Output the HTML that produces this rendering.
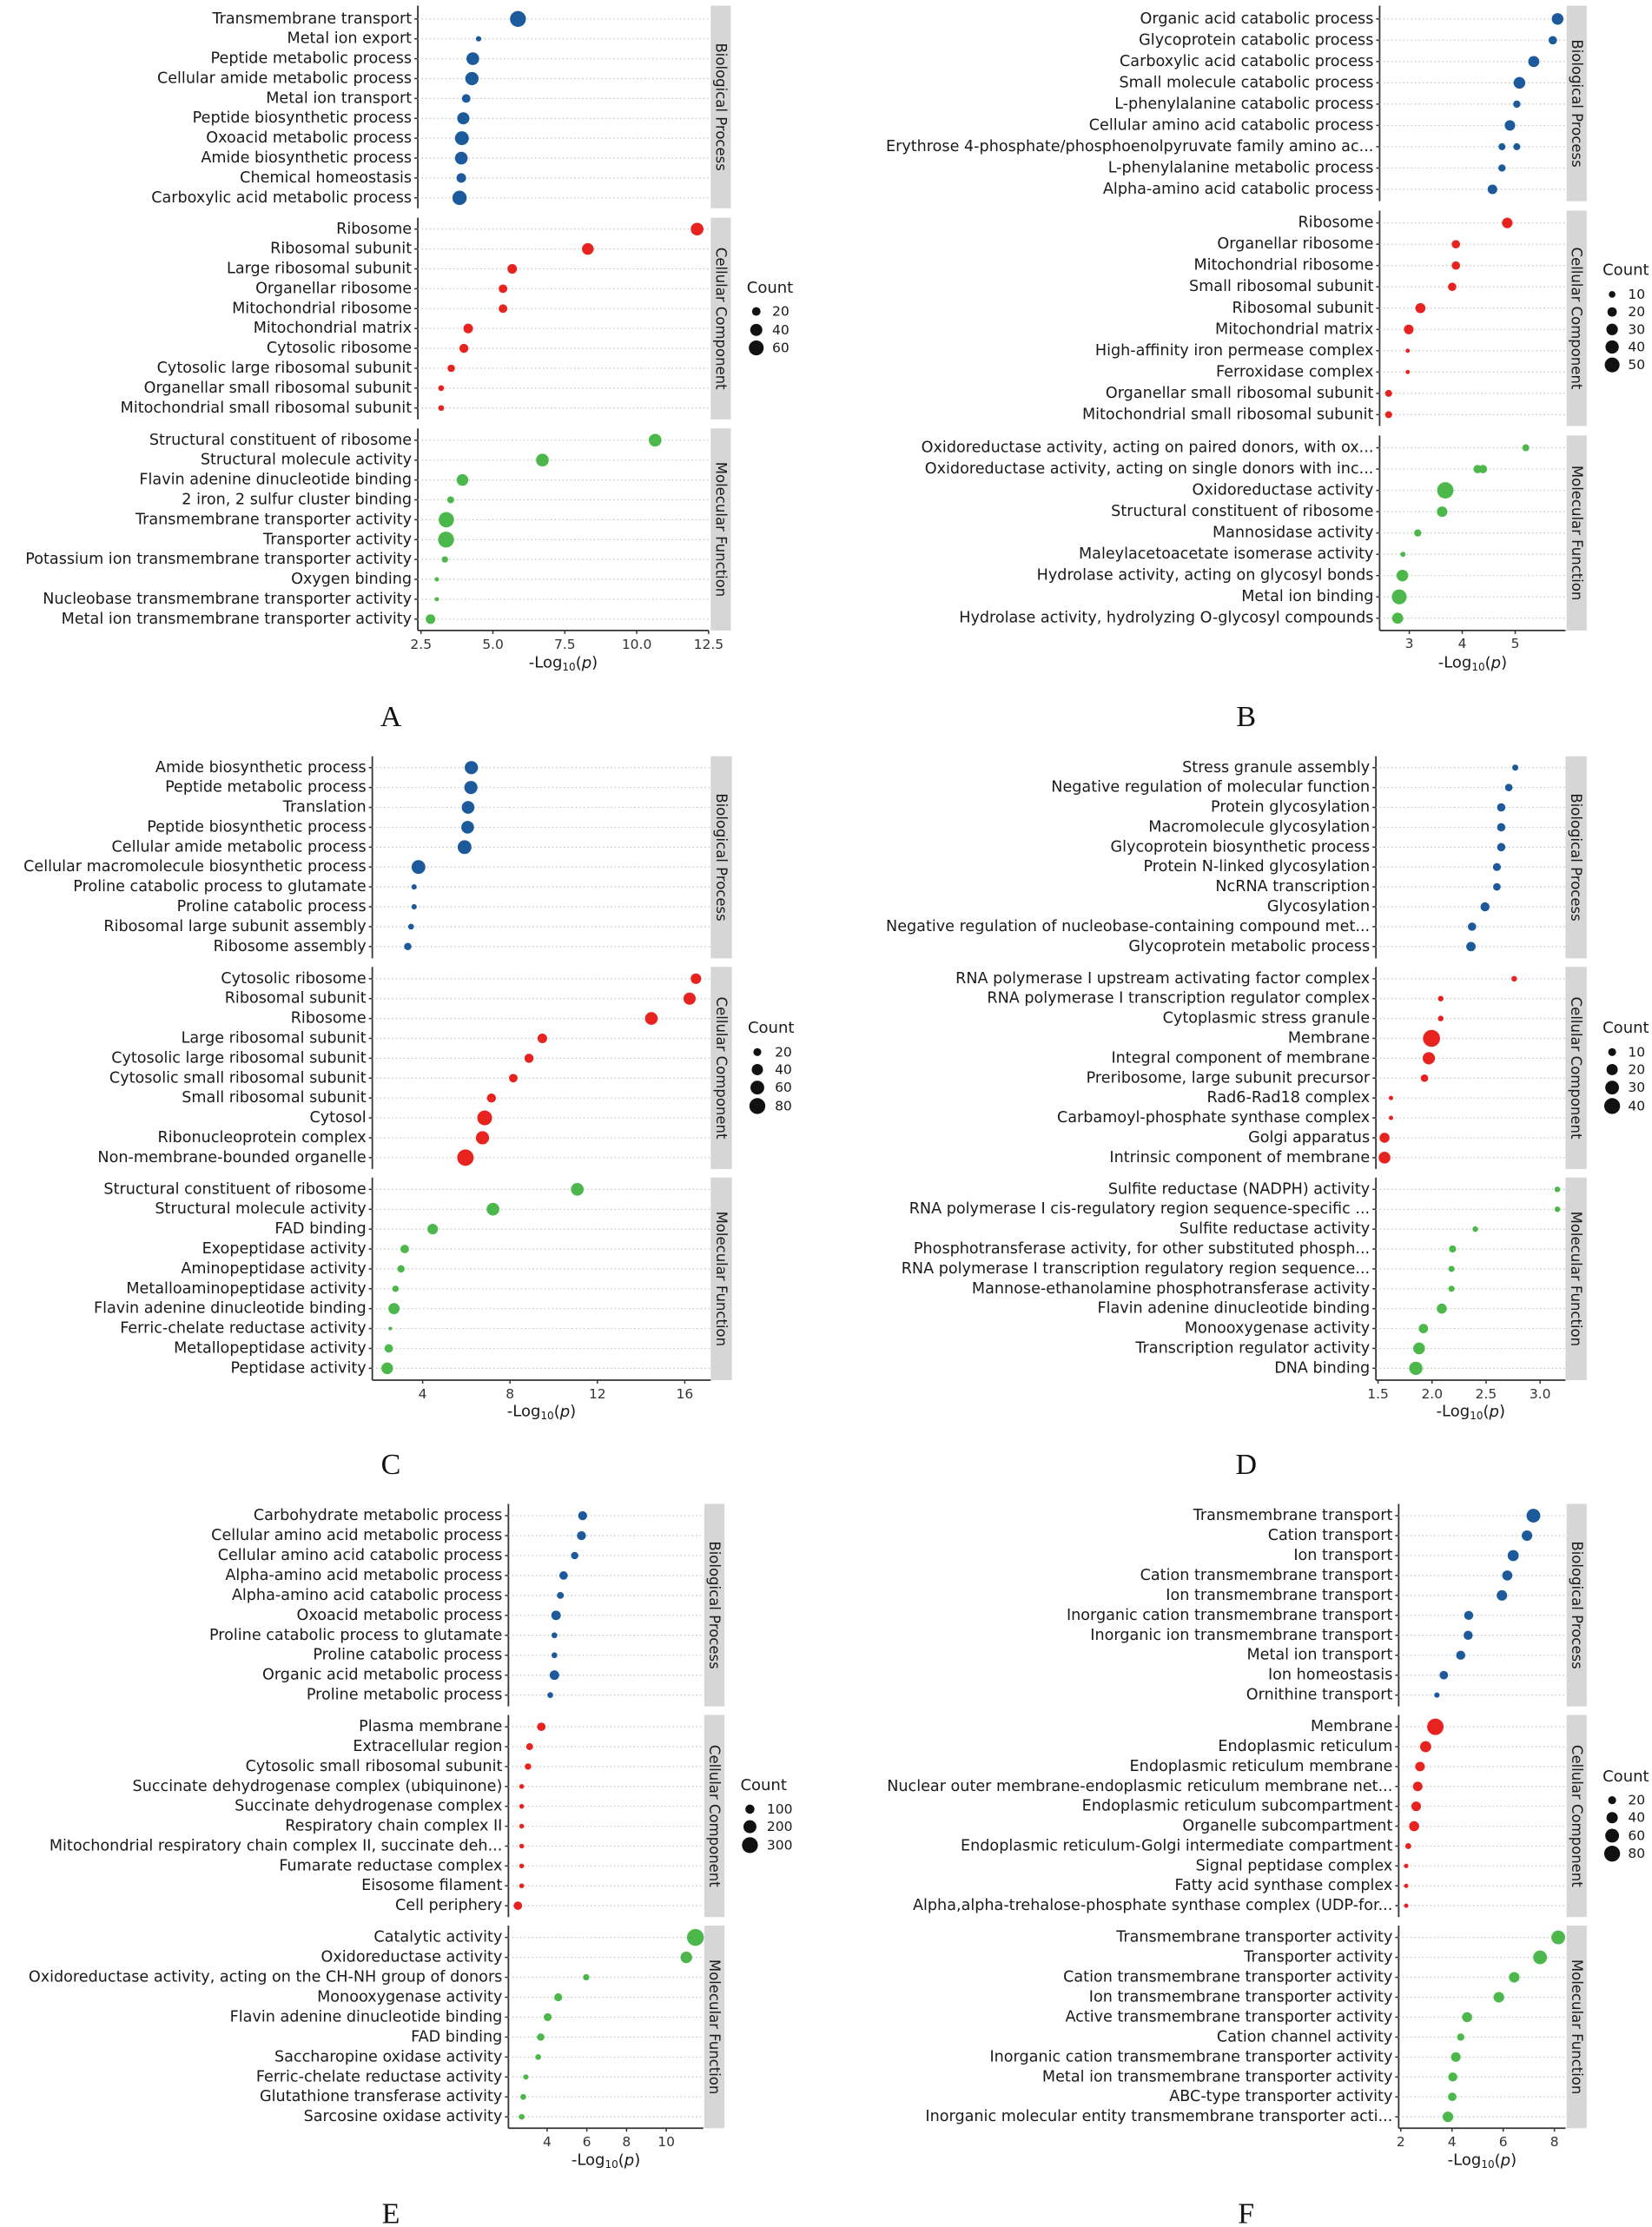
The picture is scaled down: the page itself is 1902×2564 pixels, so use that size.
<!DOCTYPE html>
<html><head><meta charset="utf-8">
<style>
html,body{margin:0;padding:0;background:#fff;}
svg{display:block;}
text{font-family:"DejaVu Sans","Liberation Sans",sans-serif;}
</style></head>
<body>
<svg id="fig" xmlns="http://www.w3.org/2000/svg" width="1902" height="2564" viewBox="0 0 1902 2564"></svg>
<script>
// ===== Panel A data =====
const A_terms=[["Transmembrane transport","Metal ion export","Peptide metabolic process","Cellular amide metabolic process","Metal ion transport","Peptide biosynthetic process","Oxoacid metabolic process","Amide biosynthetic process","Chemical homeostasis","Carboxylic acid metabolic process"],
["Ribosome","Ribosomal subunit","Large ribosomal subunit","Organellar ribosome","Mitochondrial ribosome","Mitochondrial matrix","Cytosolic ribosome","Cytosolic large ribosomal subunit","Organellar small ribosomal subunit","Mitochondrial small ribosomal subunit"],
["Structural constituent of ribosome","Structural molecule activity","Flavin adenine dinucleotide binding","2 iron, 2 sulfur cluster binding","Transmembrane transporter activity","Transporter activity","Potassium ion transmembrane transporter activity","Oxygen binding","Nucleobase transmembrane transporter activity","Metal ion transmembrane transporter activity"]];
const A_logp=[[5.87,4.5,4.3,4.27,4.07,3.97,3.92,3.9,3.9,3.84],[12.1,8.3,5.67,5.35,5.35,4.14,3.99,3.55,3.2,3.2],[10.64,6.72,3.94,3.53,3.38,3.37,3.33,3.05,3.05,2.83]];
const A_count=[[69,8,44,48,20,40,52,44,25,56],[44,37,25,20,20,25,22,15,9,9],[44,44,37,13,64,69,11,5,5,25]];
const A_ticks=[2.5,5,7.5,10,12.5];
const A_tickLabels=["2.5","5.0","7.5","10.0","12.5"];
const A_legend=[20,40,60];
// ===== Panel B data =====
const B_terms=[["Organic acid catabolic process","Glycoprotein catabolic process","Carboxylic acid catabolic process","Small molecule catabolic process","L-phenylalanine catabolic process","Cellular amino acid catabolic process","Erythrose 4-phosphate/phosphoenolpyruvate family amino ac...","Erythrose 4-phosphate/phosphoenolpyruvate family amino ac...","L-phenylalanine metabolic process","Alpha-amino acid catabolic process"],
["Ribosome","Organellar ribosome","Mitochondrial ribosome","Small ribosomal subunit","Ribosomal subunit","Mitochondrial matrix","High-affinity iron permease complex","Ferroxidase complex","Organellar small ribosomal subunit","Mitochondrial small ribosomal subunit"],
["Oxidoreductase activity, acting on paired donors, with ox...","Oxidoreductase activity, acting on single donors with inc...","Oxidoreductase activity, acting on single donors with inc...","Oxidoreductase activity","Structural constituent of ribosome","Mannosidase activity","Maleylacetoacetate isomerase activity","Hydrolase activity, acting on glycosyl bonds","Metal ion binding","Hydrolase activity, hydrolyzing O-glycosyl compounds"]];
const B_logp=[[5.8,5.71,5.35,5.08,5.03,4.9,4.75,5.03,4.75,4.57],[4.85,3.88,3.88,3.81,3.21,2.99,2.97,2.97,2.61,2.61],[5.2,4.29,4.39,3.68,3.62,3.16,2.88,2.87,2.81,2.78]];
const B_count=[[31,16,28,31,12,25,11,11,12,21],[25,16,16,16,23,21,4,4,11,11],[11,16,16,61,25,12,6,31,50,28]];
const B_ticks=[3,4,5];
const B_tickLabels=["3","4","5"];
const B_legend=[10,20,30,40,50];
// ===== Panel C data =====
const C_terms=[["Amide biosynthetic process","Peptide metabolic process","Translation","Peptide biosynthetic process","Cellular amide metabolic process","Cellular macromolecule biosynthetic process","Proline catabolic process to glutamate","Proline catabolic process","Ribosomal large subunit assembly","Ribosome assembly"],
["Cytosolic ribosome","Ribosomal subunit","Ribosome","Large ribosomal subunit","Cytosolic large ribosomal subunit","Cytosolic small ribosomal subunit","Small ribosomal subunit","Cytosol","Ribonucleoprotein complex","Non-membrane-bounded organelle"],
["Structural constituent of ribosome","Structural molecule activity","FAD binding","Exopeptidase activity","Aminopeptidase activity","Metalloaminopeptidase activity","Flavin adenine dinucleotide binding","Ferric-chelate reductase activity","Metallopeptidase activity","Peptidase activity"]];
const C_logp=[[6.23,6.21,6.08,6.06,5.92,3.81,3.61,3.61,3.47,3.32],[16.51,16.22,14.47,9.48,8.87,8.15,7.15,6.84,6.74,5.96],[11.08,7.22,4.46,3.18,3.01,2.76,2.69,2.52,2.45,2.38]];
const C_count=[[55,55,51,51,60,60,9,9,11,17],[35,47,51,29,26,23,26,69,55,85],[51,51,35,23,17,13,39,4,23,43]];
const C_ticks=[4,8,12,16];
const C_tickLabels=["4","8","12","16"];
const C_legend=[20,40,60,80];
// ===== Panel D data =====
const D_terms=[["Stress granule assembly","Negative regulation of molecular function","Protein glycosylation","Macromolecule glycosylation","Glycoprotein biosynthetic process","Protein N-linked glycosylation","NcRNA transcription","Glycosylation","Negative regulation of nucleobase-containing compound met...","Glycoprotein metabolic process"],
["RNA polymerase I upstream activating factor complex","RNA polymerase I transcription regulator complex","Cytoplasmic stress granule","Membrane","Integral component of membrane","Preribosome, large subunit precursor","Rad6-Rad18 complex","Carbamoyl-phosphate synthase complex","Golgi apparatus","Intrinsic component of membrane"],
["Sulfite reductase (NADPH) activity","RNA polymerase I cis-regulatory region sequence-specific ...","Sulfite reductase activity","Phosphotransferase activity, for other substituted phosph...","RNA polymerase I transcription regulatory region sequence...","Mannose-ethanolamine phosphotransferase activity","Flavin adenine dinucleotide binding","Monooxygenase activity","Transcription regulator activity","DNA binding"]];
const D_logp=[[2.77,2.71,2.64,2.64,2.64,2.6,2.6,2.49,2.37,2.36],[2.76,2.08,2.08,1.995,1.97,1.93,1.62,1.62,1.56,1.56],[3.16,3.16,2.4,2.19,2.18,2.18,2.09,1.92,1.88,1.85]];
const D_count=[[6,9,11,11,11,10,9,13,11,14],[5,5,5,46,24,9,3,3,16,22],[5,5,5,8,6,6,16,14,22,28]];
const D_ticks=[1.5,2.0,2.5,3.0];
const D_tickLabels=["1.5","2.0","2.5","3.0"];
const D_legend=[10,20,30,40];
// ===== Panel E data =====
const E_terms=[["Carbohydrate metabolic process","Cellular amino acid metabolic process","Cellular amino acid catabolic process","Alpha-amino acid metabolic process","Alpha-amino acid catabolic process","Oxoacid metabolic process","Proline catabolic process to glutamate","Proline catabolic process","Organic acid metabolic process","Proline metabolic process"],
["Plasma membrane","Extracellular region","Cytosolic small ribosomal subunit","Succinate dehydrogenase complex (ubiquinone)","Succinate dehydrogenase complex","Respiratory chain complex II","Mitochondrial respiratory chain complex II, succinate deh...","Fumarate reductase complex","Eisosome filament","Cell periphery"],
["Catalytic activity","Oxidoreductase activity","Oxidoreductase activity, acting on the CH-NH group of donors","Monooxygenase activity","Flavin adenine dinucleotide binding","FAD binding","Saccharopine oxidase activity","Ferric-chelate reductase activity","Glutathione transferase activity","Sarcosine oxidase activity"]];
const E_logp=[[5.79,5.73,5.39,4.83,4.67,4.45,4.37,4.37,4.37,4.16],[3.71,3.12,3.04,2.72,2.72,2.72,2.72,2.72,2.72,2.53],[11.47,11.01,5.97,4.56,4.03,3.68,3.55,2.93,2.8,2.72]];
const E_count=[[96,96,65,85,56,108,40,40,108,40],[85,56,48,27,27,27,27,27,27,85],[341,161,48,75,75,65,40,33,40,40]];
const E_ticks=[4,6,8,10];
const E_tickLabels=["4","6","8","10"];
const E_legend=[100,200,300];
// ===== Panel F data =====
const F_terms=[["Transmembrane transport","Cation transport","Ion transport","Cation transmembrane transport","Ion transmembrane transport","Inorganic cation transmembrane transport","Inorganic ion transmembrane transport","Metal ion transport","Ion homeostasis","Ornithine transport"],
["Membrane","Endoplasmic reticulum","Endoplasmic reticulum membrane","Nuclear outer membrane-endoplasmic reticulum membrane net...","Endoplasmic reticulum subcompartment","Organelle subcompartment","Endoplasmic reticulum-Golgi intermediate compartment","Signal peptidase complex","Fatty acid synthase complex","Alpha,alpha-trehalose-phosphate synthase complex (UDP-for..."],
["Transmembrane transporter activity","Transporter activity","Cation transmembrane transporter activity","Ion transmembrane transporter activity","Active transmembrane transporter activity","Cation channel activity","Inorganic cation transmembrane transporter activity","Metal ion transmembrane transporter activity","ABC-type transporter activity","Inorganic molecular entity transmembrane transporter acti..."]];
const F_logp=[[7.18,6.93,6.39,6.16,5.95,4.65,4.63,4.34,3.68,3.41],[3.35,2.97,2.75,2.66,2.6,2.52,2.29,2.21,2.21,2.21],[8.15,7.44,6.43,5.83,4.59,4.34,4.15,4.03,4.01,3.84]];
const F_count=[[60,35,39,32,35,26,26,26,23,9],[85,39,29,29,29,32,11,6,6,6],[60,60,35,35,32,17,29,26,23,35]];
const F_ticks=[2,4,6,8];
const F_tickLabels=["2","4","6","8"];
const F_legend=[20,40,60,80];

const FACETS=["Biological Process","Cellular Component","Molecular Function"];
const COLORS=["#1d5a9c","#e8221f","#4cb84b"];
const NS="http://www.w3.org/2000/svg";
const svg=document.getElementById('fig');
function mk(tag,attrs,parent){const e=document.createElementNS(NS,tag);for(const k in attrs)e.setAttribute(k,attrs[k]);(parent||svg).appendChild(e);return e;}

const SX=1.64, SY=1.835;
const layouts={
A:{ox:0,oy:0,axisX:789,right:1338,stripX:1342,stripW:38,x0:795,x1:1338,v0:2.5,v1:12.5,
   facets:[[12,440,40,418],[460,886,484,862],[905,1332,930,1308]],bottom:1332,tickY:1362,titleY:1400,letter:[738,1515],
   leg:{tx:1410,ty:608,ys:[658,697,735],cx:1428,lx:1458},k:1.81},
B:{ox:950,oy:0,axisX:1047,right:1398,stripX:1400,stripW:38,x0:1103,x1:1303,v0:3,v1:5,
   facets:[[12,425,40,400],[445,900,471,876],[920,1332,946,1306]],bottom:1332,tickY:1360,titleY:1400,letter:[795,1515],
   leg:{tx:1468,ty:571,ys:[622,659,696,733,771],cx:1486,lx:1516},k:1.98},
C:{ox:0,oy:850,axisX:703,right:1342,stripX:1342,stripW:40,x0:798,x1:1293,v0:4,v1:16,
   facets:[[38,465,62,440],[483,910,508,886],[928,1356,953,1331]],bottom:1356,tickY:1385,titleY:1422,letter:[738,1535],
   leg:{tx:1412,ty:612,ys:[663,700,738,777],cx:1430,lx:1463},k:1.68},
D:{ox:950,oy:850,axisX:1040,right:1398,stripX:1398,stripW:40,x0:1044,x1:1350,v0:1.5,v1:3.0,
   facets:[[38,465,62,440],[483,910,508,886],[928,1356,953,1331]],bottom:1356,tickY:1385,titleY:1422,letter:[795,1535],
   leg:{tx:1468,ty:612,ys:[663,700,738,777],cx:1486,lx:1516},k:2.37},
E:{ox:0,oy:1714,axisX:960,right:1328,stripX:1330,stripW:38,x0:1033,x1:1258,v0:4,v1:10,
   facets:[[32,460,57,436],[478,905,503,881],[923,1351,948,1327]],bottom:1351,tickY:1380,titleY:1418,letter:[738,1532],
   leg:{tx:1398,ty:627,ys:[677,714,753],cx:1416,lx:1448},k:0.866},
F:{ox:950,oy:1714,axisX:1083,right:1398,stripX:1400,stripW:38,x0:1087,x1:1377,v0:2,v1:8,
   facets:[[32,460,57,436],[478,905,503,881],[923,1351,948,1327]],bottom:1351,tickY:1380,titleY:1418,letter:[795,1532],
   leg:{tx:1468,ty:608,ys:[658,695,733,771],cx:1486,lx:1516},k:1.68}
};
const DATA={A:[A_terms,A_logp,A_count,A_ticks,A_tickLabels,A_legend],B:[B_terms,B_logp,B_count,B_ticks,B_tickLabels,B_legend],
C:[C_terms,C_logp,C_count,C_ticks,C_tickLabels,C_legend],D:[D_terms,D_logp,D_count,D_ticks,D_tickLabels,D_legend],
E:[E_terms,E_logp,E_count,E_ticks,E_tickLabels,E_legend],F:[F_terms,F_logp,F_count,F_ticks,F_tickLabels,F_legend]};

for(const key in layouts){
  const L=layouts[key];const [terms,logp,counts,ticks,tickLabels,legend]=DATA[key];
  const g=mk('g',{transform:`translate(${L.ox},${L.oy})`});
  
  
  const X=z=>z/SX, Y=z=>z/SY;
  const xs=v=>X(L.x0+(v-L.v0)*(L.x1-L.x0)/(L.v1-L.v0));
  const rs=c=>L.k*Math.sqrt(c)/SX;
  const ax=X(L.axisX), rt=X(L.right);
  for(let f=0;f<3;f++){
    const [ft,fb,r0,r1]=L.facets[f];
    const uniq=[];terms[f].forEach(t=>{if(!uniq.includes(t))uniq.push(t);});
    const step=uniq.length>1?(r1-r0)/(uniq.length-1):0;
    const ys=i=>Y(r0+i*step);
    const st=mk('rect',{x:X(L.stripX),y:Y(ft),width:X(L.stripW),height:Y(fb-ft),fill:'#d6d6d6'},g);
    
    
    const sx=X(L.stripX+L.stripW/2), sy=Y((ft+fb)/2);
    const stt=mk('text',{x:sx,y:sy,transform:`rotate(90 ${sx} ${sy})`,'text-anchor':'middle','dominant-baseline':'central','font-size':16.5,fill:'#1a1a1a'},g);
    stt.textContent=FACETS[f];
    
    
    mk('line',{x1:ax,y1:Y(ft),x2:ax,y2:Y(fb),stroke:'#333',"stroke-width":1.8},g);
    uniq.forEach((t,i)=>{
      const y=ys(i);
      mk('line',{x1:ax,y1:y,x2:rt,y2:y,stroke:'#c4c4c4','stroke-width':1.2,'stroke-dasharray':'1.5 3'},g);
      mk('line',{x1:ax-4,y1:y,x2:ax,y2:y,stroke:'#333','stroke-width':1.5},g);
      const lt=mk('text',{x:ax-7,y:y,'text-anchor':'end','dominant-baseline':'central','font-size':17.6,fill:'#1a1a1a'},g);
      lt.textContent=t;
      
      
    });
    terms[f].forEach((t,i)=>{
      const c=mk('circle',{cx:xs(logp[f][i]),cy:ys(uniq.indexOf(t)),r:rs(counts[f][i]),fill:COLORS[f]},g);
      
      
    });
  }
  const by=Y(L.bottom);
  mk('line',{x1:ax,y1:by,x2:rt,y2:by,stroke:'#333','stroke-width':1.8},g);
  ticks.forEach((v,i)=>{
    mk('line',{x1:xs(v),y1:by,x2:xs(v),y2:by+4,stroke:'#333','stroke-width':1.5},g);
    const tt=mk('text',{x:xs(v),y:Y(L.tickY),'text-anchor':'middle','dominant-baseline':'central','font-size':15.5,fill:'#333'},g);
    tt.textContent=tickLabels[i];
    
    
  });
  const title=mk('text',{x:(ax+rt)/2,y:Y(L.titleY),'text-anchor':'middle','dominant-baseline':'central','font-size':18,fill:'#1a1a1a'},g);
  title.innerHTML='-Log<tspan font-size="12" dy="5">10</tspan><tspan dy="-5">(</tspan><tspan font-style="italic">p</tspan>)';
  
  
  const lg=mk('text',{x:X(L.leg.tx),y:Y(L.leg.ty),'font-size':18,fill:'#1a1a1a','dominant-baseline':'central'},g);
  lg.textContent='Count';
  
  
  legend.forEach((v,i)=>{
    const c=mk('circle',{cx:X(L.leg.cx),cy:Y(L.leg.ys[i]),r:rs(v),fill:'#111'},g);
    
    
    const t=mk('text',{x:X(L.leg.lx),y:Y(L.leg.ys[i]),'font-size':15.5,fill:'#1a1a1a','dominant-baseline':'central'},g);
    t.textContent=String(v);
    
    
  });
  const let_=mk('text',{x:X(L.letter[0]),y:Y(L.letter[1]),'text-anchor':'middle','dominant-baseline':'central',fill:'#111',style:'font-family:"Liberation Serif",serif;font-size:34px'},g);
  let_.textContent=key;
  
  
}
</script>
</body></html>
